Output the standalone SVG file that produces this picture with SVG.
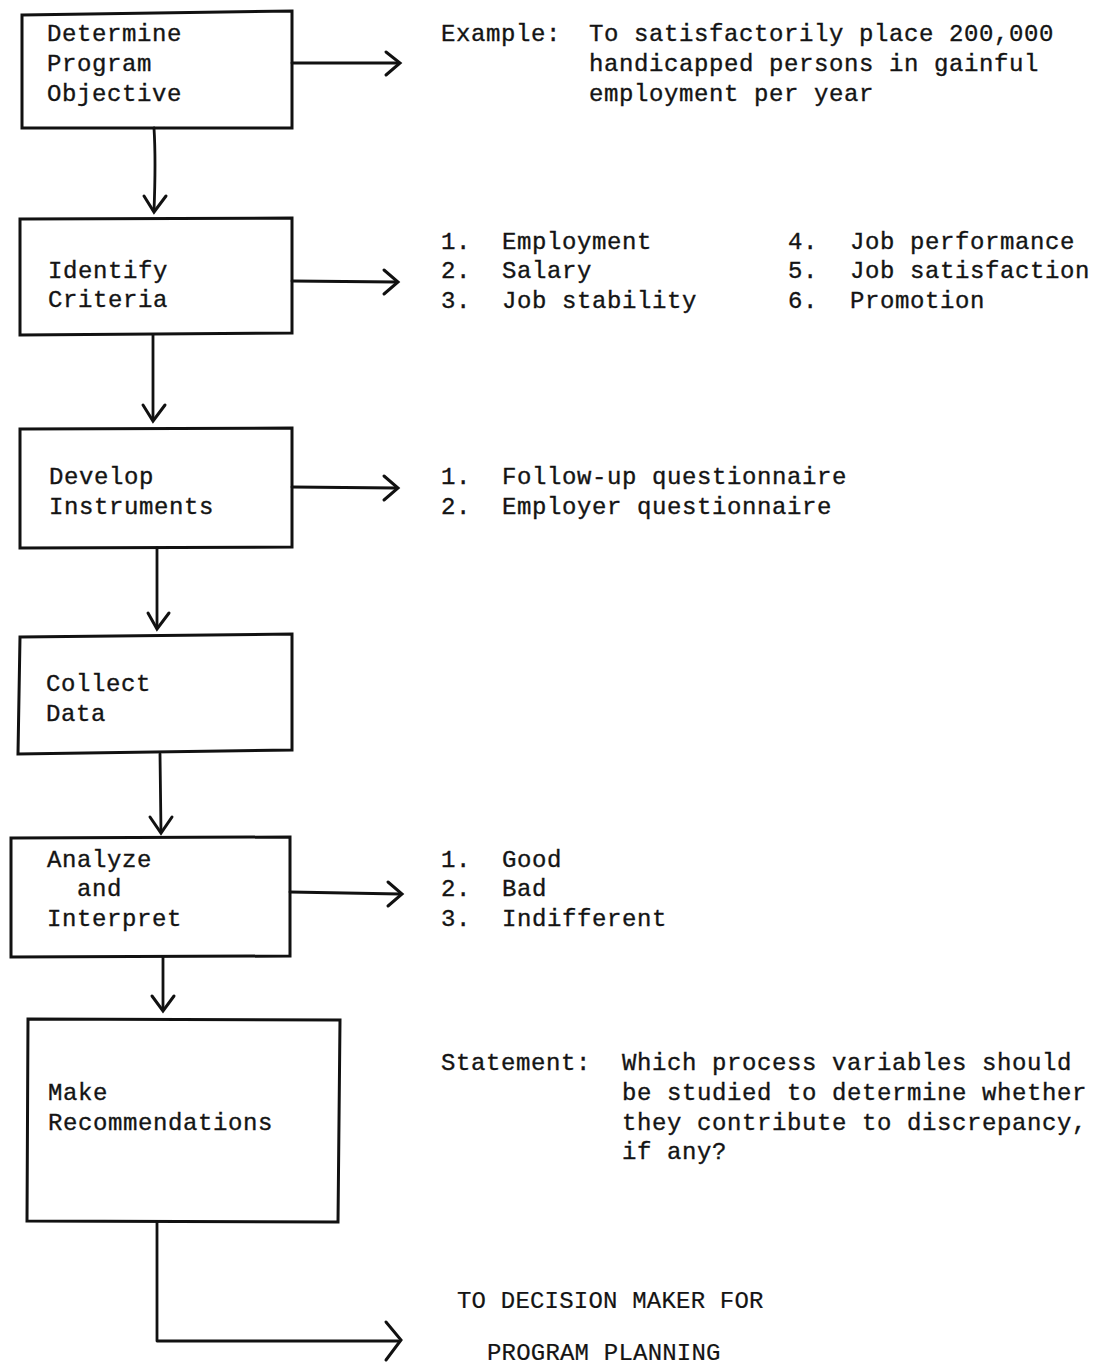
<svg xmlns="http://www.w3.org/2000/svg" width="1099" height="1368" viewBox="0 0 1099 1368">
  <style>
    .box { fill: #ffffff; stroke: #111; stroke-width: 3; stroke-linejoin: miter; }
    .wire { fill: none; stroke: #111; stroke-width: 2.8; stroke-linecap: round; stroke-linejoin: round; }
    .head { fill: none; stroke: #111; stroke-width: 3; stroke-linecap: round; stroke-linejoin: miter; }
    text { font-family: "Liberation Mono", "DejaVu Sans Mono", monospace; font-size: 24px; letter-spacing: 0.6px; fill: #141414; stroke: #141414; stroke-width: 0.35px; }
    .caps { font-size: 24px; letter-spacing: 0.2px; stroke-width: 0.2px; }
  </style>
  <rect width="1099" height="1368" fill="#ffffff"/>

  <!-- process steps -->
  <g id="step-objective">
    <path class="box" d="M22,15 L292,11 L292,128 L22,128 Z"/>
    <text x="47" y="41">Determine</text>
    <text x="47" y="71">Program</text>
    <text x="47" y="101">Objective</text>
  </g>
  <g id="step-criteria">
    <path class="box" d="M20,219 L292,218 L292,333 L20,335 Z"/>
    <text x="48" y="278">Identify</text>
    <text x="48" y="307">Criteria</text>
  </g>
  <g id="step-instruments">
    <path class="box" d="M20,429 L292,428 L292,547 L20,548 Z"/>
    <text x="49" y="484">Develop</text>
    <text x="49" y="514">Instruments</text>
  </g>
  <g id="step-collect">
    <path class="box" d="M20,637 L292,634 L292,750 L18,754 Z"/>
    <text x="46" y="691">Collect</text>
    <text x="46" y="721">Data</text>
  </g>
  <g id="step-analyze">
    <path class="box" d="M11,838 L290,837 L290,956 L11,957 Z"/>
    <text x="47" y="867">Analyze</text>
    <text x="77" y="896">and</text>
    <text x="47" y="926">Interpret</text>
  </g>
  <g id="step-recommend">
    <path class="box" d="M28,1019 L340,1020 L338,1222 L27,1221 Z"/>
    <text x="48" y="1100">Make</text>
    <text x="48" y="1130">Recommendations</text>
  </g>

  <!-- outputs beside each step -->
  <g id="note-objective">
    <text x="441" y="41">Example:</text>
    <text x="589" y="41">To satisfactorily place 200,000</text>
    <text x="589" y="71">handicapped persons in gainful</text>
    <text x="589" y="101">employment per year</text>
  </g>
  <g id="note-criteria">
    <text x="441" y="249">1.</text><text x="502" y="249">Employment</text>
    <text x="441" y="278">2.</text><text x="502" y="278">Salary</text>
    <text x="441" y="308">3.</text><text x="502" y="308">Job stability</text>
    <text x="788" y="249">4.</text><text x="850" y="249">Job performance</text>
    <text x="788" y="278">5.</text><text x="850" y="278">Job satisfaction</text>
    <text x="788" y="308">6.</text><text x="850" y="308">Promotion</text>
  </g>
  <g id="note-instruments">
    <text x="441" y="484">1.</text><text x="502" y="484">Follow-up questionnaire</text>
    <text x="441" y="514">2.</text><text x="502" y="514">Employer questionnaire</text>
  </g>
  <g id="note-analyze">
    <text x="441" y="867">1.</text><text x="502" y="867">Good</text>
    <text x="441" y="896">2.</text><text x="502" y="896">Bad</text>
    <text x="441" y="926">3.</text><text x="502" y="926">Indifferent</text>
  </g>
  <g id="note-recommend">
    <text x="441" y="1070">Statement:</text>
    <text x="622" y="1070">Which process variables should</text>
    <text x="622" y="1100">be studied to determine whether</text>
    <text x="622" y="1130">they contribute to discrepancy,</text>
    <text x="622" y="1159">if any?</text>
  </g>
  <g id="note-decision">
    <text class="caps" x="457" y="1308">TO DECISION MAKER FOR</text>
    <text class="caps" x="487" y="1360">PROGRAM PLANNING</text>
  </g>

  <!-- connectors -->
  <g id="connectors">
    <!-- downward flow -->
    <path class="wire" d="M154,128 Q156,160 154,211"/>
    <path class="head" d="M144,196 L154,212 L166,196"/>
    <path class="wire" d="M153,335 L153,420"/>
    <path class="head" d="M143,405 L153,421 L165,405"/>
    <path class="wire" d="M157,548 L157,628"/>
    <path class="head" d="M148,613 L157,629 L169,613"/>
    <path class="wire" d="M160,754 L161,832"/>
    <path class="head" d="M150,817 L161,833 L172,817"/>
    <path class="wire" d="M163,957 L163,1010"/>
    <path class="head" d="M152,996 L163,1011 L174,996"/>
    <!-- sideways outputs -->
    <path class="wire" d="M292,63 L398,63"/>
    <path class="head" d="M386,52 L400,63 L386,75"/>
    <path class="wire" d="M292,281 L396,282"/>
    <path class="head" d="M384,270 L398,282 L384,294"/>
    <path class="wire" d="M292,487 L396,488"/>
    <path class="head" d="M384,476 L398,488 L384,500"/>
    <path class="wire" d="M290,892 L400,894"/>
    <path class="head" d="M388,882 L402,894 L388,906"/>
    <!-- final hand-off -->
    <path class="wire" d="M157,1222 L157,1341 L398,1341"/>
    <path class="head" d="M386,1322 L401,1340 L386,1360"/>
  </g>
</svg>
